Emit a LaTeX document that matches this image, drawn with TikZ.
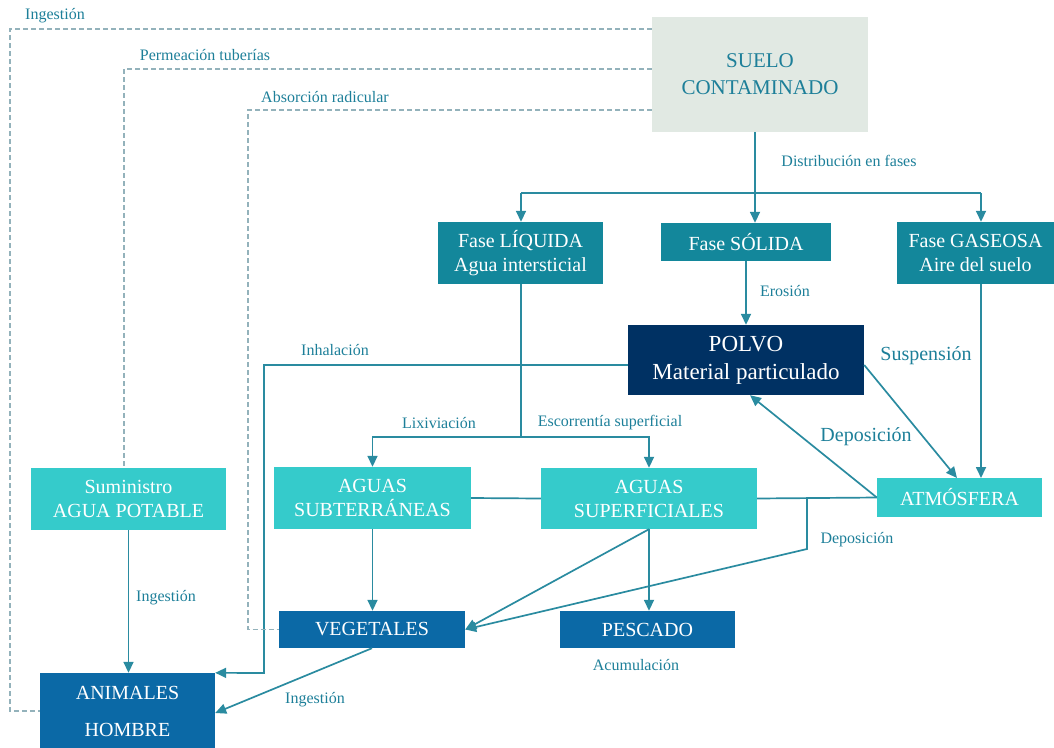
\documentclass[tikz,border=0pt]{standalone}
\usepackage{fontspec}
\setmainfont{Liberation Serif}
\usetikzlibrary{arrows.meta}
\definecolor{cTeal}{HTML}{13879B}
\definecolor{cNavy}{HTML}{003163}
\definecolor{cTurq}{HTML}{35CBCB}
\definecolor{cBlue}{HTML}{0B69A6}
\definecolor{cSuelo}{HTML}{E1E9E3}
\definecolor{cLine}{HTML}{2A8BA0}
\definecolor{cDash}{HTML}{93B2BB}
\definecolor{cLabel}{HTML}{1D7F99}
\begin{document}
\begin{tikzpicture}[x=1pt,y=-1pt,
  box/.style={rectangle, inner sep=0pt, align=center, text=white, font=\fontsize{20}{24}\selectfont},
  tealbox/.style={box, fill=cTeal},
  navybox/.style={box, fill=cNavy, font=\fontsize{23}{28}\selectfont},
  turqbox/.style={box, fill=cTurq},
  bluebox/.style={box, fill=cBlue},
  soilbox/.style={box, fill=cSuelo, text=cLabel, font=\fontsize{21}{27}\selectfont},
  conn/.style={draw=cLine, line width=1.7pt},
  arr/.style={conn, -{Triangle[width=10pt,length=11pt]}},
  dsh/.style={draw=cDash, line width=1.8pt, dash pattern=on 5pt off 3pt},
  lbl/.style={text=cLabel, inner sep=0pt, font=\fontsize{16}{19}\selectfont},
  biglbl/.style={text=cLabel, inner sep=0pt, font=\fontsize{20}{24}\selectfont}
]
\useasboundingbox (0,0) rectangle (1054,747);

% nodes
\node[soilbox, minimum width=216pt, minimum height=115pt] (suelo) at (760,74.5) {SUELO\\CONTAMINADO};
\node[tealbox, minimum width=165pt, minimum height=62pt] (liq) at (520.5,253) {Fase LÍQUIDA\\Agua intersticial};
\node[tealbox, minimum width=170pt, minimum height=38pt] (sol) at (746,242) {Fase SÓLIDA};
\node[tealbox, minimum width=157pt, minimum height=62pt] (gas) at (975.5,253) {Fase GASEOSA\\Aire del suelo};
\node[navybox, minimum width=236pt, minimum height=70pt] (polvo) at (746,360) {POLVO\\Material particulado};
\node[turqbox, minimum width=195pt, minimum height=62pt] (sum) at (128.5,499) {Suministro\\AGUA POTABLE};
\node[turqbox, minimum width=197pt, minimum height=62pt] (subt) at (372.5,498) {AGUAS\\SUBTERRÁNEAS};
\node[turqbox, minimum width=216pt, minimum height=61pt] (sup) at (649,498.5) {AGUAS\\SUPERFICIALES};
\node[turqbox, minimum width=165pt, minimum height=39pt] (atm) at (959.5,497.5) {ATMÓSFERA};
\node[bluebox, minimum width=186pt, minimum height=37pt] (veg) at (372,629.5) {VEGETALES};
\node[bluebox, minimum width=175pt, minimum height=37pt] (pes) at (647.5,629.5) {PESCADO};
\node[bluebox, minimum width=175pt, minimum height=76pt, font=\fontsize{20}{37}\selectfont] (ani) at (127.5,711) {ANIMALES\\HOMBRE};

% helper coordinates
\coordinate (split) at (755,193);
\coordinate (busL) at (521,193);
\coordinate (busR) at (981,193);
\coordinate (lix) at (521,437);
\coordinate (gasx) at (981,478);
\coordinate (susp) at (957,478);
\coordinate (depo) at (807,498);
\coordinate (depo2) at (807,549);
\coordinate (inh1) at (264,365);
\coordinate (inh2) at (264,673);
\coordinate (d1) at (10,29);
\coordinate (d2) at (124,69);
\coordinate (d3) at (248,110);

% distribution
\draw[conn] (suelo.south -| split) -- (split);
\draw[conn] (busL) -- (busR);
\draw[arr] (busL) -- (busL |- liq.north);
\draw[arr] (split) -- (split |- sol.north);
\draw[arr] (busR) -- (busR |- gas.north);
\draw[arr] (sol.south -| polvo.north) -- (polvo.north);

% liquid phase
\draw[conn] (liq.south -| lix) -- (lix);
\draw[arr] (lix) -| (subt.north);
\draw[arr] (lix) -| (sup.north);

% gas phase
\draw[arr] (gas.south -| gasx) -- (gasx);
\draw[arr] ([yshift=-5pt]polvo.east) -- (susp);
\draw[arr] (atm.west) -- ([xshift=4pt]polvo.south);

% waters
\draw[conn] (subt.east) -- (sup.west);
\draw[conn] (sup.east) -- (atm.west);
\draw[arr] (depo) -- (depo2) -- (veg.east);
\draw[arr] (sup.south) -- (veg.east);
\draw[arr] (sup.south) -- (sup.south |- pes.north);
\draw[arr] (subt.south) -- (subt.south |- veg.north);

% to animals
\draw[arr] ([yshift=-5pt]polvo.west) -- (inh1) -- (inh2) -- (ani.north east);
\draw[arr] (sum.south) -- (sum.south |- ani.north);
\draw[arr] (veg.south) -- ([yshift=-2pt]ani.east);

% dashed
\draw[dsh] (suelo.west |- d1) -- (d1) |- (ani.west);
\draw[dsh] (suelo.west |- d2) -- (d2) -- (d2 |- sum.north);
\draw[dsh] (suelo.west |- d3) -- (d3) |- (veg.west);

% labels
\node[lbl] (l1) at (55,16) {Ingestión};
\node[lbl] (l2) at (205,55) {Permeación tuberías};
\node[lbl] (l3) at (325,97) {Absorción radicular};
\node[lbl] (l4) at (849,161) {Distribución en fases};
\node[lbl] (l5) at (785,291) {Erosión};
\node[lbl] (l6) at (335,350) {Inhalación};
\node[biglbl] (l7) at (926,356) {Suspensión};
\node[biglbl] (l8) at (866,437) {Deposición};
\node[lbl] (l9) at (439,423) {Lixiviación};
\node[lbl] (l10) at (610,423) {Escorrentía superficial};
\node[lbl] (l11) at (857,540) {Deposición};
\node[lbl] (l12) at (636,665) {Acumulación};
\node[lbl] (l13) at (166,598) {Ingestión};
\node[lbl] (l14) at (315,700) {Ingestión};
\end{tikzpicture}
\end{document}
